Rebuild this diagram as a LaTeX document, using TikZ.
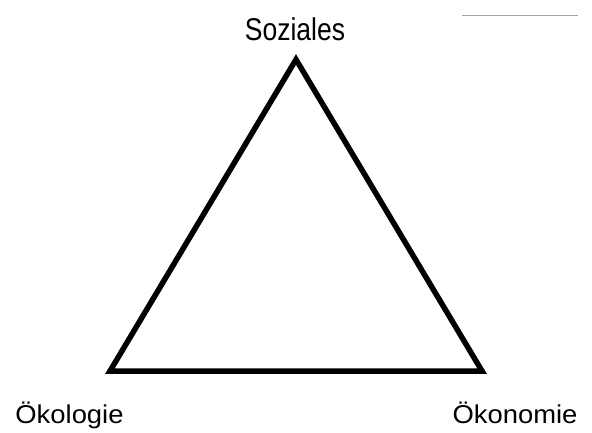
\documentclass[tikz,border=0pt]{standalone}
\usepackage{fontspec}
\usepackage{graphicx}
\setmainfont{Liberation Sans}
\begin{document}
\begin{tikzpicture}[x=1pt,y=-1pt,
  lbl/.style={anchor=base,inner sep=0pt},
  tri/.style={line width=5.5pt,line join=miter,draw=black}]
\useasboundingbox (0,0) rectangle (592,432);
\coordinate (S) at (296,59.5);
\coordinate (L) at (110,371);
\coordinate (R) at (482,371);
\draw[tri] (S) -- (L) -- (R) -- cycle;
\node[lbl] (soz) at (295,40) {\scalebox{1}[1.19]{\fontsize{26.5}{32}\selectfont Soziales}};
\node[lbl] (oek) at (69.5,423.5) {\scalebox{1}[0.94]{\fontsize{27.4}{33}\selectfont Ökologie}};
\node[lbl] (okn) at (515,423.5) {\scalebox{1}[0.94]{\fontsize{27.4}{33}\selectfont Ökonomie}};
\coordinate (g1) at (462,15);
\coordinate (g2) at (578,15);
\draw[line width=1pt,draw=black!35] (g1) -- (g2);
\end{tikzpicture}
\end{document}
